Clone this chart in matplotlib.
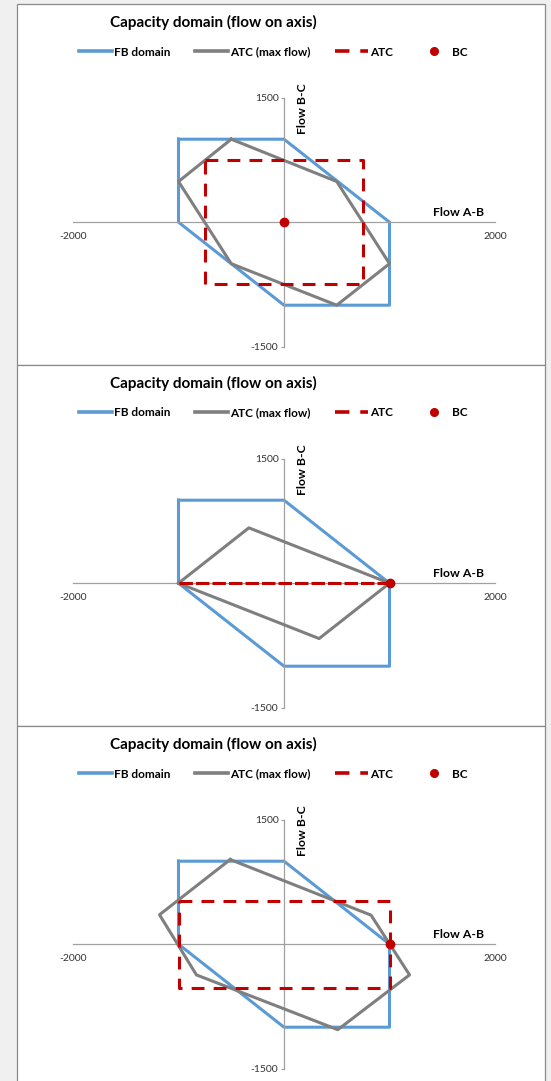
import matplotlib.pyplot as plt
from matplotlib.lines import Line2D
from matplotlib.patches import Rectangle

plt.rcParams["font.family"] = ["Lato", "DejaVu Sans"]
plt.rcParams["axes.unicode_minus"] = False

OUT_PATH = "out.png"
FIG_W, FIG_H = 551, 1081
PANEL_STEP = 361

BLUE = "#5B9BD5"
GREY = "#7F7F7F"
RED = "#C00000"
AXIS = "#A0A0A0"

TITLE = "Capacity domain (flow on axis)"
LABELS = ["FB domain", "ATC (max flow)", "ATC", "BC"]
XTICKS = [-2000, 2000]
YTICKS = [-1500, 1500]

# flow-based domain (same in all three cases)
fb_x = [-1000, 0, 1000, 1000, 0, -1000, -1000]
fb_y = [1000, 1000, 0, -1000, -1000, 0, 1000]

# ATC (max flow) polygons
atc_max_x_1 = [-500, 500, 1000, 500, -500, -1000, -500]
atc_max_y_1 = [1000, 490, -500, -1000, -500, 490, 1000]
atc_max_x_2 = [-1000, -333, 1000, 333, -1000]
atc_max_y_2 = [0, 667, 0, -667, 0]
atc_max_x_3 = [-510, 825, 1190, 510, -830, -1180, -510]
atc_max_y_3 = [1020, 350, -370, -1030, -370, 355, 1020]

# ATC boxes (case 2 collapses to a segment on the A-B axis)
atc_x_1 = [-750, 750, 750, -750, -750]
atc_y_1 = [750, 750, -750, -750, 750]
atc_x_2 = [-1000, 1000]
atc_y_2 = [0, 0]
atc_x_3 = [-1000, 1000, 1000, -1000, -1000]
atc_y_3 = [525, 525, -530, -530, 525]

# base case
bc_x = [0, 1000, 1000]
bc_y = [0, 0, 0]

# the collapsed box is drawn twice over itself in the original, so its
# dashes look longer with short gaps
CASES = [
    (atc_max_x_1, atc_max_y_1, atc_x_1, atc_y_1, (4.2, 3.0)),
    (atc_max_x_2, atc_max_y_2, atc_x_2, atc_y_2, (4.4, 1.0)),
    (atc_max_x_3, atc_max_y_3, atc_x_3, atc_y_3, (4.2, 3.0)),
]


def px_box(x0, y0, x1, y1):
    # pixel box (top-left origin) -> figure fraction rect
    return [x0 / FIG_W, 1 - y1 / FIG_H, (x1 - x0) / FIG_W, (y1 - y0) / FIG_H]


def draw_panel(fig, i, atc_max_x, atc_max_y, atc_x, atc_y, dashes, bx, by):
    off = PANEL_STEP * i
    l, b, w, h = px_box(17.3, 4.3 + off, 545.3, 365.3 + off)
    fig.patches.append(Rectangle((l, b), w, h, transform=fig.transFigure,
                                 facecolor="white", edgecolor="#8A8A8A",
                                 linewidth=0.9, zorder=-1))

    fig.text(213 / FIG_W, 1 - (22 + off) / FIG_H, TITLE, ha="center",
             va="center", fontsize=11, fontweight="bold", color="black")

    ax = fig.add_axes(px_box(73, 97.7 + off, 495, 346.7 + off))
    ax.set_facecolor("none")
    ax.plot(fb_x, fb_y, color=BLUE, lw=2.2, zorder=2)
    ax.plot(atc_max_x, atc_max_y, color=GREY, lw=2.2, zorder=3)
    ax.plot(atc_x, atc_y, color=RED, lw=2.2, dashes=dashes, zorder=4)
    ax.plot([bx], [by], "o", color=RED, ms=6, zorder=5, clip_on=False)

    ax.set_xlim(-2000, 2000)
    ax.set_ylim(-1500, 1500)
    for side in ("top", "right"):
        ax.spines[side].set_visible(False)
    for side in ("left", "bottom"):
        ax.spines[side].set_position(("data", 0))
        ax.spines[side].set_color(AXIS)
        ax.spines[side].set_linewidth(0.9)
    ax.set_xticks(XTICKS)
    ax.set_yticks(YTICKS)
    ax.tick_params(axis="x", length=0, pad=7, labelsize=7.5, labelcolor="#333333")
    ax.tick_params(axis="y", length=2.5, width=0.9, color=AXIS, pad=1.5,
                   labelsize=7.5, labelcolor="#333333")

    ax.text(0.975, 0.516, "Flow A-B", transform=ax.transAxes, ha="right",
            va="bottom", fontsize=8.8, fontweight="bold")
    ax.text(0.545, 0.955, "Flow B-C", transform=ax.transAxes, ha="center",
            va="center", rotation=90, fontsize=8.8, fontweight="bold",
            clip_on=False)

    handles = [
        Line2D([], [], color=BLUE, lw=2.6),
        Line2D([], [], color=GREY, lw=2.6),
        Line2D([], [], color=RED, lw=2.6, dashes=(4.0, 3.0)),
        Line2D([], [], color=RED, marker="o", ms=5.5, ls="none"),
    ]
    ax.legend(handles, LABELS, loc="center", ncol=4, frameon=False,
              bbox_to_anchor=(273.5 / FIG_W, 1 - (52 + off) / FIG_H),
              bbox_transform=fig.transFigure, prop={"size": 8.5, "weight": "bold"},
              handlelength=2.8, handletextpad=0.15, columnspacing=2.1,
              borderpad=0, borderaxespad=0)


def main():
    fig = plt.figure(figsize=(FIG_W / 100, FIG_H / 100), dpi=100)
    fig.patch.set_facecolor("#F0F0F0")
    for i, (mx, my, ax_, ay_, dash) in enumerate(CASES):
        draw_panel(fig, i, mx, my, ax_, ay_, dash, bc_x[i], bc_y[i])
    fig.savefig(OUT_PATH, dpi=100, facecolor=fig.get_facecolor())


if __name__ == "__main__":
    main()
